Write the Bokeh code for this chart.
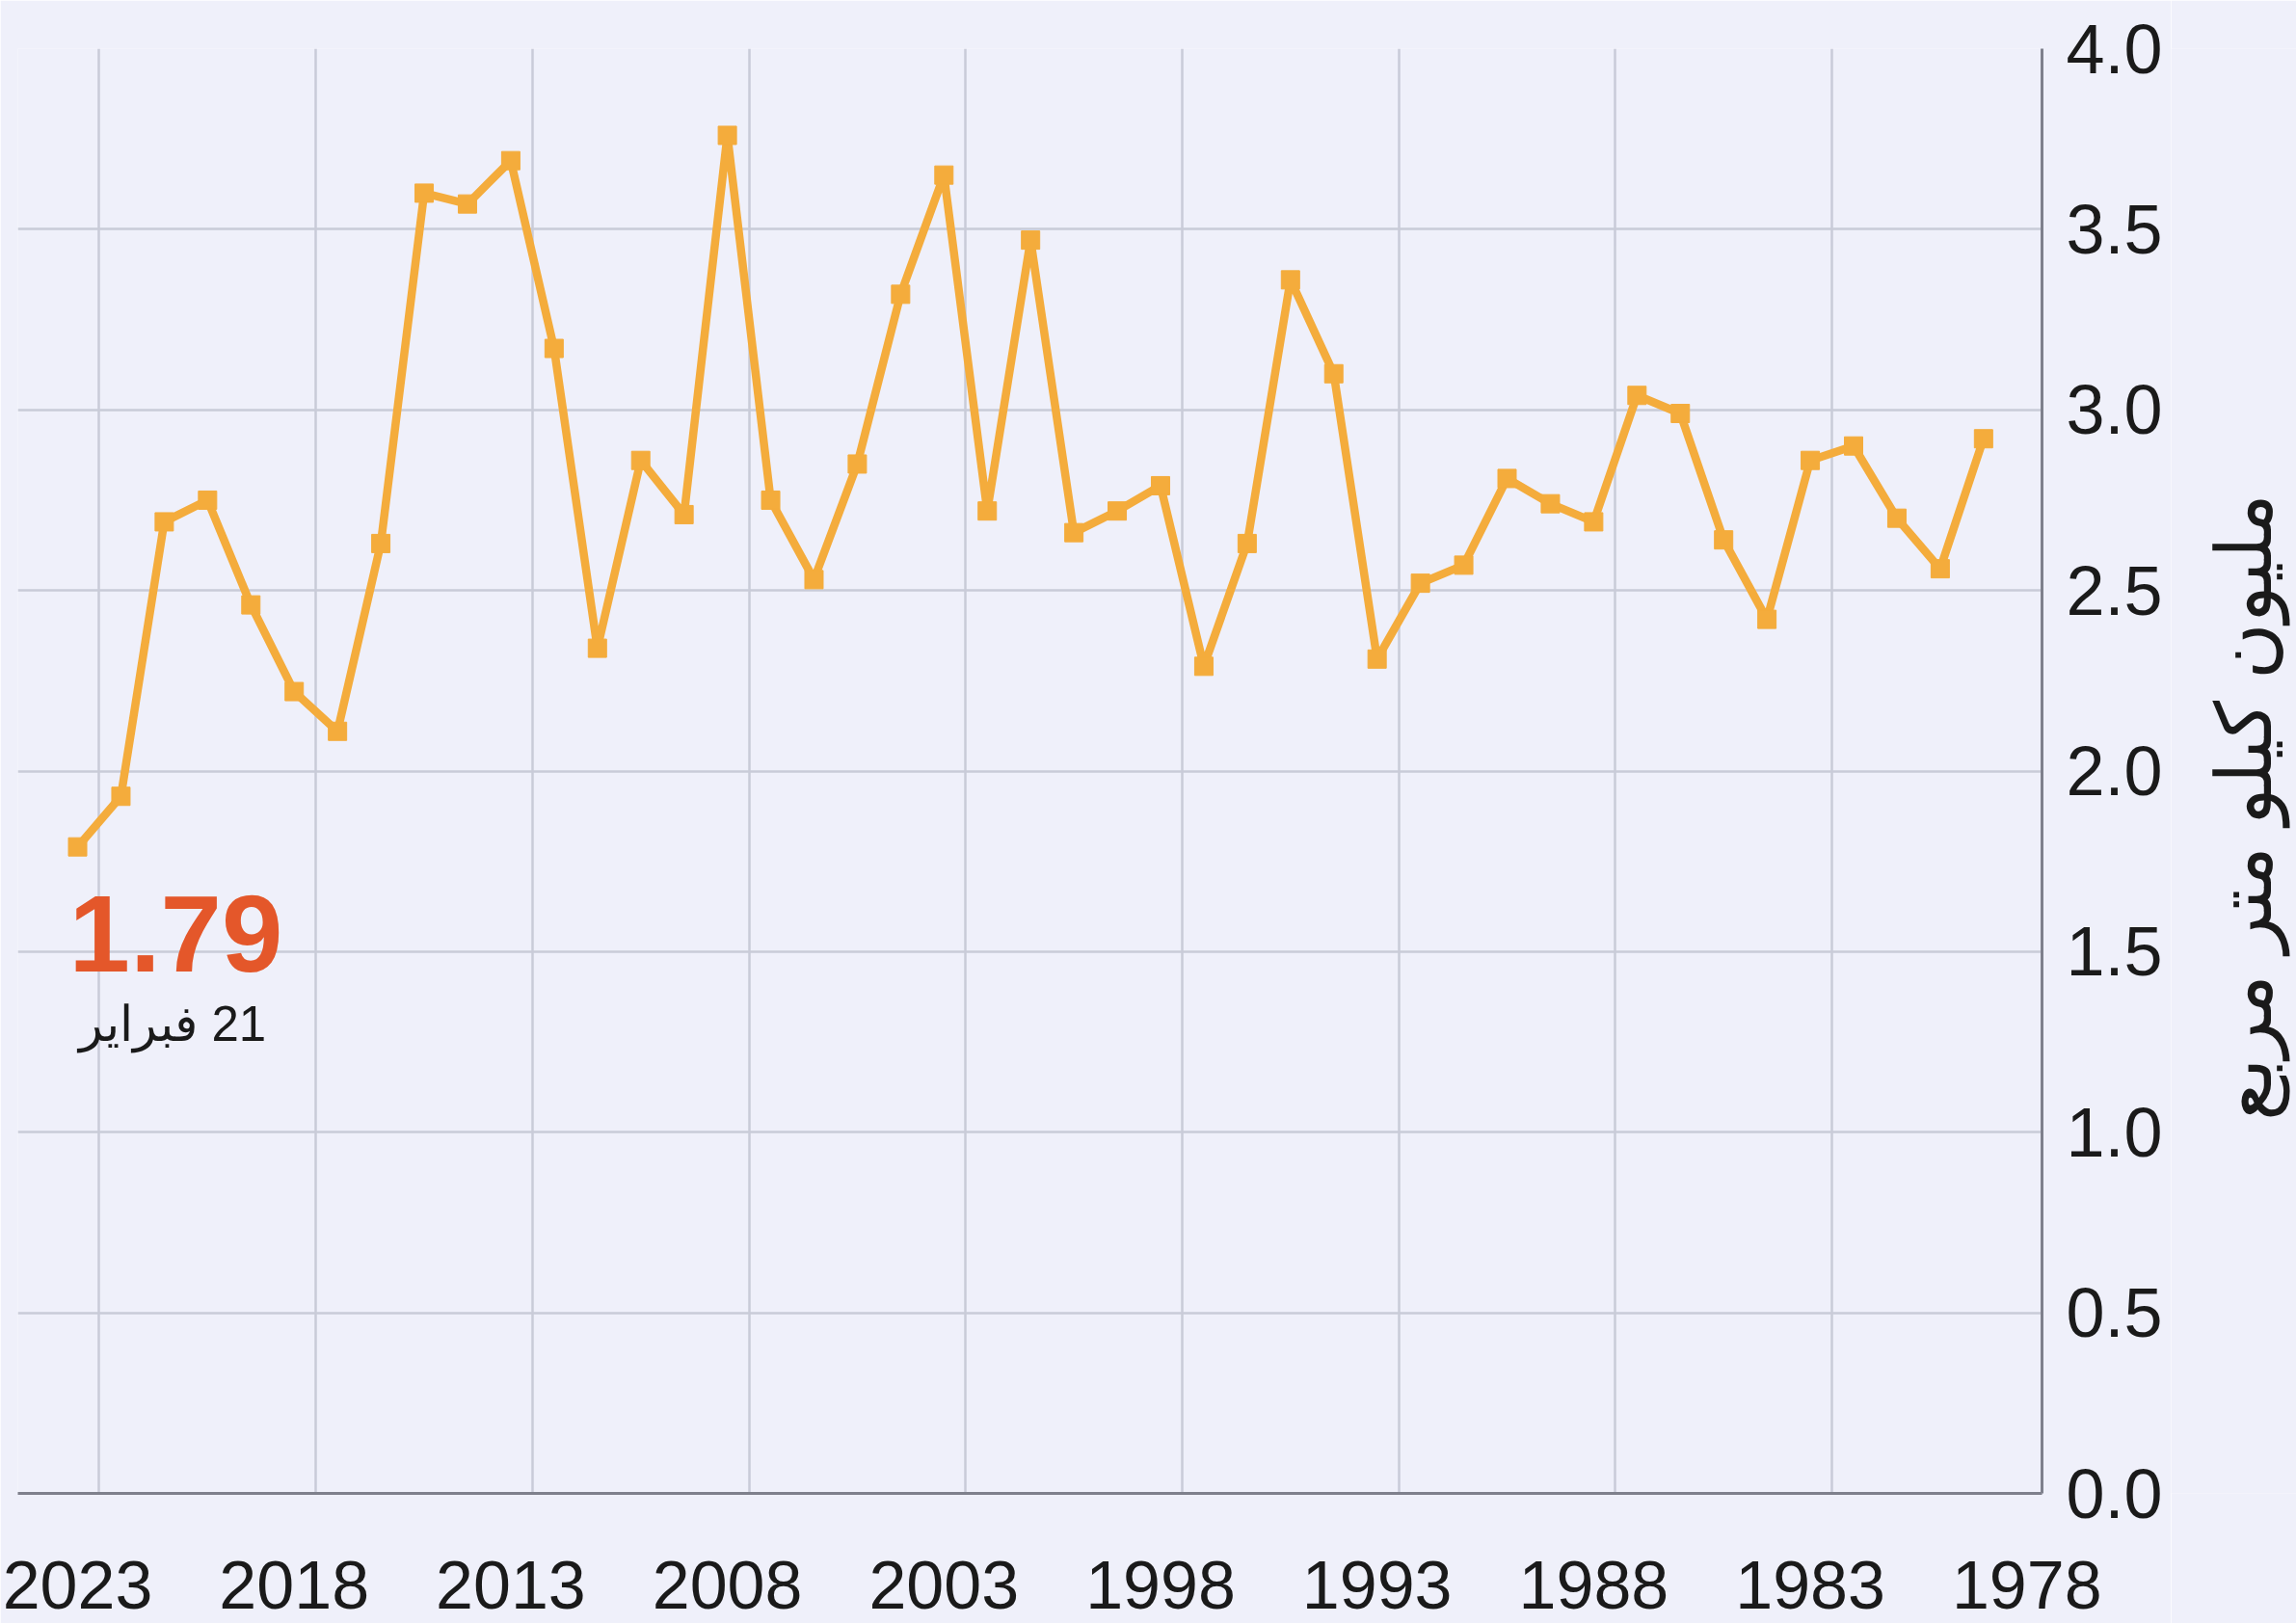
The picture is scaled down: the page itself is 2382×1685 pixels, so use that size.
import math
from bokeh.plotting import figure
from bokeh.layouts import row
from bokeh.models import (Range1d, FixedTicker, NumeralTickFormatter, Label,
                          ColumnDataSource)
from bokeh.embed import file_html
from bokeh.resources import INLINE

# ---- data (Antarctic sea-ice minimum extent, million km²) ----
years = list(range(2023, 1978, -1))  # 2023 ... 1979
extent = [1.79, 1.93, 2.69, 2.75, 2.46, 2.22, 2.11, 2.63, 3.60, 3.57,
          3.69, 3.17, 2.34, 2.86, 2.71, 3.76, 2.75, 2.53, 2.85, 3.32,
          3.65, 2.72, 3.47, 2.66, 2.72, 2.79, 2.29, 2.63, 3.36, 3.10,
          2.31, 2.52, 2.57, 2.81, 2.74, 2.69, 3.04, 2.99, 2.64, 2.42,
          2.86, 2.90, 2.70, 2.56, 2.92]
x_tick_years = [2023, 2018, 2013, 2008, 2003, 1998, 1993, 1988, 1983, 1978]
x_grid_years = [2022.5, 2017.5, 2012.5, 2007.5, 2002.5, 1997.5, 1992.5, 1987.5, 1982.5]
y_ticks = [0.0, 0.5, 1.0, 1.5, 2.0, 2.5, 3.0, 3.5, 4.0]
y_title = "مليون كيلو متر مربع"
latest_value = "1.79"
latest_date = "\u200f21 فبراير"

BG = "#EFF0FA"
LINE = "#F4AC3C"
GRID = "#C9CBD8"
AXIS = "#7E808C"
FONT = "Liberation Sans"
H = 1684

src = ColumnDataSource(dict(year=years, extent=extent))

p = figure(width=2252, height=H,
           x_range=Range1d(2024.38, 1977.65), y_range=Range1d(0, 4),
           output_backend="svg", toolbar_location=None,
           x_axis_location="below", y_axis_location="right",
           background_fill_color=BG, border_fill_color=BG,
           min_border_left=18, min_border_top=50,
           min_border_right=134, min_border_bottom=135)
p.outline_line_color = None

p.line("year", "extent", source=src, line_color=LINE, line_width=8.5)
p.scatter("year", "extent", source=src, marker="square", size=19,
          fill_color=LINE, line_color=LINE)

# grids
p.xgrid.ticker = FixedTicker(ticks=x_grid_years)
p.ygrid.ticker = FixedTicker(ticks=y_ticks)
for g in (p.xgrid, p.ygrid):
    g.grid_line_color = GRID
    g.grid_line_width = 2.5

# x axis
xa = p.xaxis[0]
xa.ticker = FixedTicker(ticks=x_tick_years)
xa.axis_line_color = AXIS
xa.axis_line_width = 3
xa.major_tick_out = 0
xa.major_tick_in = 0
xa.minor_tick_out = 0
xa.minor_tick_in = 0
xa.major_label_standoff = 70
xa.major_label_text_font = FONT
xa.major_label_text_font_size = "70px"
xa.major_label_text_color = "#1A1A1A"

# y axis (right)
ya = p.yaxis[0]
ya.ticker = FixedTicker(ticks=y_ticks)
ya.formatter = NumeralTickFormatter(format="0.0")
ya.axis_line_color = AXIS
ya.axis_line_width = 3
ya.major_tick_out = 0
ya.major_tick_in = 0
ya.minor_tick_out = 0
ya.minor_tick_in = 0
ya.major_label_standoff = 25
ya.major_label_text_font = FONT
ya.major_label_text_font_size = "72px"
ya.major_label_text_color = "#1A1A1A"

# annotations
p.add_layout(Label(x=2023.2, y=1.55, text=latest_value, text_font=FONT,
                   text_font_size="114px", text_font_style="bold",
                   text_color="#E4572A", text_align="left",
                   text_baseline="alphabetic"))
p.add_layout(Label(x=2022.96, y=1.30, text=latest_date, text_font=FONT,
                   text_font_size="51px", text_color="#1A1A1A",
                   text_align="left", text_baseline="alphabetic"))

# narrow strip carrying the vertical axis title (reads bottom-to-top)
t = figure(width=130, height=H, x_range=Range1d(0, 130), y_range=Range1d(0, H),
           output_backend="svg", toolbar_location=None,
           background_fill_color=BG, border_fill_color=BG,
           min_border=0, x_axis_location=None, y_axis_location=None)
t.outline_line_color = None
t.xgrid.visible = False
t.ygrid.visible = False
t.add_layout(Label(x=76, y=H - 884, text=y_title, text_font=FONT,
                   text_font_size="80px", text_color="#1A1A1A",
                   angle=math.pi / 2, text_align="center",
                   text_baseline="alphabetic"))

layout = row(p, t, spacing=0)
open("out.html", "w").write(file_html(layout, INLINE))
